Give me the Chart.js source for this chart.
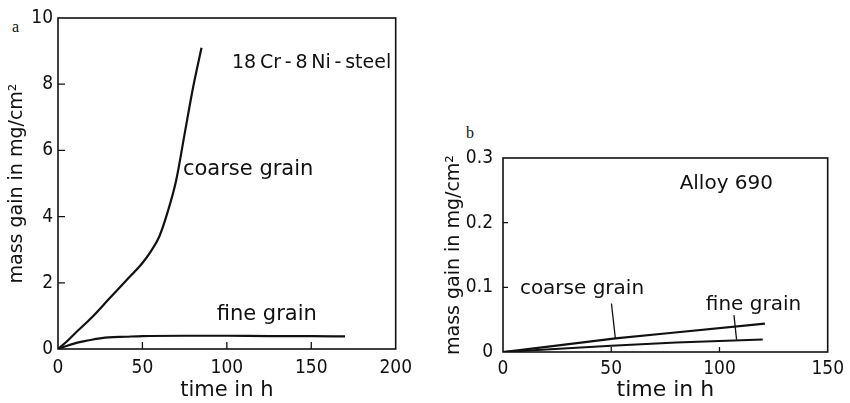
<!DOCTYPE html>
<html>
<head>
<meta charset="utf-8">
<script src="https://cdn.jsdelivr.net/npm/chart.js@4.4.1/dist/chart.umd.min.js"></script>
<style>
  html, body { margin: 0; padding: 0; background: #fff; }
  body { width: 850px; height: 403px; position: relative; overflow: hidden; }
  .box { position: absolute; }
  #steelBox { left: 0; top: 0; width: 420px; height: 403px; }
  #alloyBox { left: 430px; top: 110px; width: 420px; height: 293px; }
  .panel { position: absolute; font-family: 'Liberation Serif', serif; font-size: 16px; line-height: 1; color: #111; }
</style>
</head>
<body>
<div class="panel" style="left:12px; top:19px">a</div>
<div class="panel" style="left:466px; top:125px">b</div>
<div class="box" id="steelBox"><canvas id="steelChart" width="420" height="403"></canvas></div>
<div class="box" id="alloyBox"><canvas id="alloyChart" width="420" height="293"></canvas></div>
<script>
// panel a: 18Cr-8Ni steel, mass gain (mg/cm2) vs time (h)
const steelCoarseTime = [0, 5, 10, 20, 30, 40, 50, 55, 60, 65, 70, 75, 80, 85]
const steelCoarseGain = [0, 0.22, 0.47, 0.95, 1.5, 2.05, 2.6, 2.95, 3.4, 4.15, 5.1, 6.5, 7.9, 9.1]
const steelFineTime = [0, 5, 10, 15, 20, 25, 30, 40, 50, 75, 100, 125, 150, 170]
const steelFineGain = [0, 0.09, 0.17, 0.23, 0.28, 0.32, 0.35, 0.37, 0.39, 0.40, 0.40, 0.39, 0.39, 0.38]
const steelXTicks = [0, 50, 100, 150, 200]
const steelYTicks = [0, 2, 4, 6, 8, 10]

// panel b: Alloy 690
const alloyCoarseTime = [0, 20, 52, 76, 121]
const alloyCoarseGain = [0, 0.008, 0.021, 0.029, 0.044]
const alloyFineTime = [0, 20, 50, 80, 120]
const alloyFineGain = [0, 0.004, 0.0095, 0.0145, 0.0195]
const alloyXTicks = [0, 50, 100, 150]
const alloyYTicks = [0, 0.1, 0.2, 0.3]

// pointer lines from the labels down to the curves
const coarseLeaderTime = [50.1, 51.9]
const coarseLeaderGain = [0.075, 0.021]
const fineLeaderTime = [106.7, 107.9]
const fineLeaderGain = [0.057, 0.019]

// labels, anchored in data units (left end, baseline)
const steelNotes = [
    {text: '18\u2009Cr\u2009-\u20098\u2009Ni\u2009-\u2009steel', x: 103, y: 8.49, size: 19},
    {text: 'coarse grain', x: 74, y: 5.26, size: 21},
    {text: 'fine grain', x: 94, y: 0.88, size: 21}
]
const alloyNotes = [
    {text: 'Alloy 690', x: 81.6, y: 0.2527, size: 20},
    {text: 'coarse grain', x: 7.8, y: 0.0892, size: 20},
    {text: 'fine grain', x: 93.7, y: 0.0656, size: 20}
]

const ink = '#111'
const sans = "'DejaVu Sans', sans-serif"
const tickFont = "'DejaVu Sans Condensed', 'DejaVu Sans', sans-serif"

function points(xs, ys) {
    return xs.map((x, i) => ({x: x, y: ys[i]}))
}

// box round the plot, inward tick marks and the text labels
const frameAndNotes = {
    id: 'frameAndNotes',
    afterDatasetsDraw(chart, args, opts) {
        const {ctx, chartArea: a} = chart
        const x = chart.scales.x, y = chart.scales.y
        ctx.save()
        ctx.strokeStyle = ink
        ctx.lineWidth = 1.6
        ctx.strokeRect(a.left, a.top, a.right - a.left, a.bottom - a.top)
        ctx.lineWidth = 1.3
        ctx.beginPath()
        x.ticks.forEach(t => {
            if (t.value > x.min && t.value < x.max) {
                const px = x.getPixelForValue(t.value)
                ctx.moveTo(px, a.bottom)
                ctx.lineTo(px, a.bottom - opts.tick)
            }
        })
        y.ticks.forEach(t => {
            if (t.value > y.min && t.value < y.max) {
                const py = y.getPixelForValue(t.value)
                ctx.moveTo(a.left, py)
                ctx.lineTo(a.left + opts.tick, py)
            }
        })
        ctx.stroke()
        ctx.fillStyle = ink
        ctx.textBaseline = 'alphabetic'
        ctx.textAlign = 'left'
        opts.notes.forEach(n => {
            ctx.font = n.size + 'px ' + sans
            ctx.fillText(n.text, x.getPixelForValue(n.x), y.getPixelForValue(n.y))
        })
        ctx.restore()
    }
}

function curve(xs, ys, width, smooth) {
    return {
        data: points(xs, ys),
        borderColor: ink,
        borderWidth: width,
        pointRadius: 0,
        fill: false,
        cubicInterpolationMode: smooth ? 'monotone' : 'default',
        tension: 0
    }
}

function makeChart(id, cfg) {
    return new Chart(document.getElementById(id), {
        type: 'line',
        data: {datasets: cfg.datasets},
        plugins: [frameAndNotes],
        options: {
            responsive: false,
            animation: false,
            layout: {padding: cfg.padding},
            plugins: {
                legend: {display: false},
                tooltip: {enabled: false},
                frameAndNotes: {notes: cfg.notes, tick: cfg.tick}
            },
            scales: {
                x: {
                    type: 'linear',
                    min: cfg.xTicks[0],
                    max: cfg.xTicks[cfg.xTicks.length - 1],
                    afterBuildTicks: s => { s.ticks = cfg.xTicks.map(v => ({value: v})) },
                    afterFit: s => { s.height = cfg.xHeight },
                    grid: {display: false, drawTicks: false},
                    border: {display: false},
                    ticks: {color: ink, font: {family: tickFont, size: 19}, padding: cfg.xPad, maxRotation: 0},
                    title: {display: true, text: 'time in h', color: ink,
                        font: {family: sans, size: cfg.xTitleSize}, padding: {top: 0, bottom: 0}}
                },
                y: {
                    type: 'linear',
                    min: cfg.yTicks[0],
                    max: cfg.yTicks[cfg.yTicks.length - 1],
                    afterBuildTicks: s => { s.ticks = cfg.yTicks.map(v => ({value: v})) },
                    afterFit: s => { s.width = cfg.yWidth },
                    grid: {display: false, drawTicks: false},
                    border: {display: false},
                    ticks: {color: ink, font: {family: tickFont, size: 19}, padding: cfg.yPad,
                        callback: v => String(v)},
                    title: {display: true, text: 'mass gain in mg/cm\u00b2', color: ink,
                        font: {family: sans, size: 19}, padding: {top: cfg.titlePad, bottom: 0}}
                }
            }
        }
    })
}

makeChart('steelChart', {
    datasets: [
        curve(steelCoarseTime, steelCoarseGain, 2.2, true),
        curve(steelFineTime, steelFineGain, 2.2, true)
    ],
    notes: steelNotes,
    xTicks: steelXTicks,
    yTicks: steelYTicks,
    padding: {left: 0, top: 18, right: 22, bottom: 0},
    xHeight: 54,
    yWidth: 58,
    xPad: 8,
    yPad: 5,
    titlePad: 6,
    xTitleSize: 21,
    tick: 7
})

makeChart('alloyChart', {
    datasets: [
        curve(alloyCoarseTime, alloyCoarseGain, 2.2, false),
        curve(alloyFineTime, alloyFineGain, 2, false),
        curve(coarseLeaderTime, coarseLeaderGain, 1.3, false),
        curve(fineLeaderTime, fineLeaderGain, 1.3, false)
    ],
    notes: alloyNotes,
    xTicks: alloyXTicks,
    yTicks: alloyYTicks,
    padding: {left: 0, top: 48, right: 18, bottom: 0},
    xHeight: 51,
    yWidth: 73,
    xPad: 6,
    yPad: 10,
    titlePad: 13,
    xTitleSize: 22,
    tick: 5
})
</script>
</body>
</html>
